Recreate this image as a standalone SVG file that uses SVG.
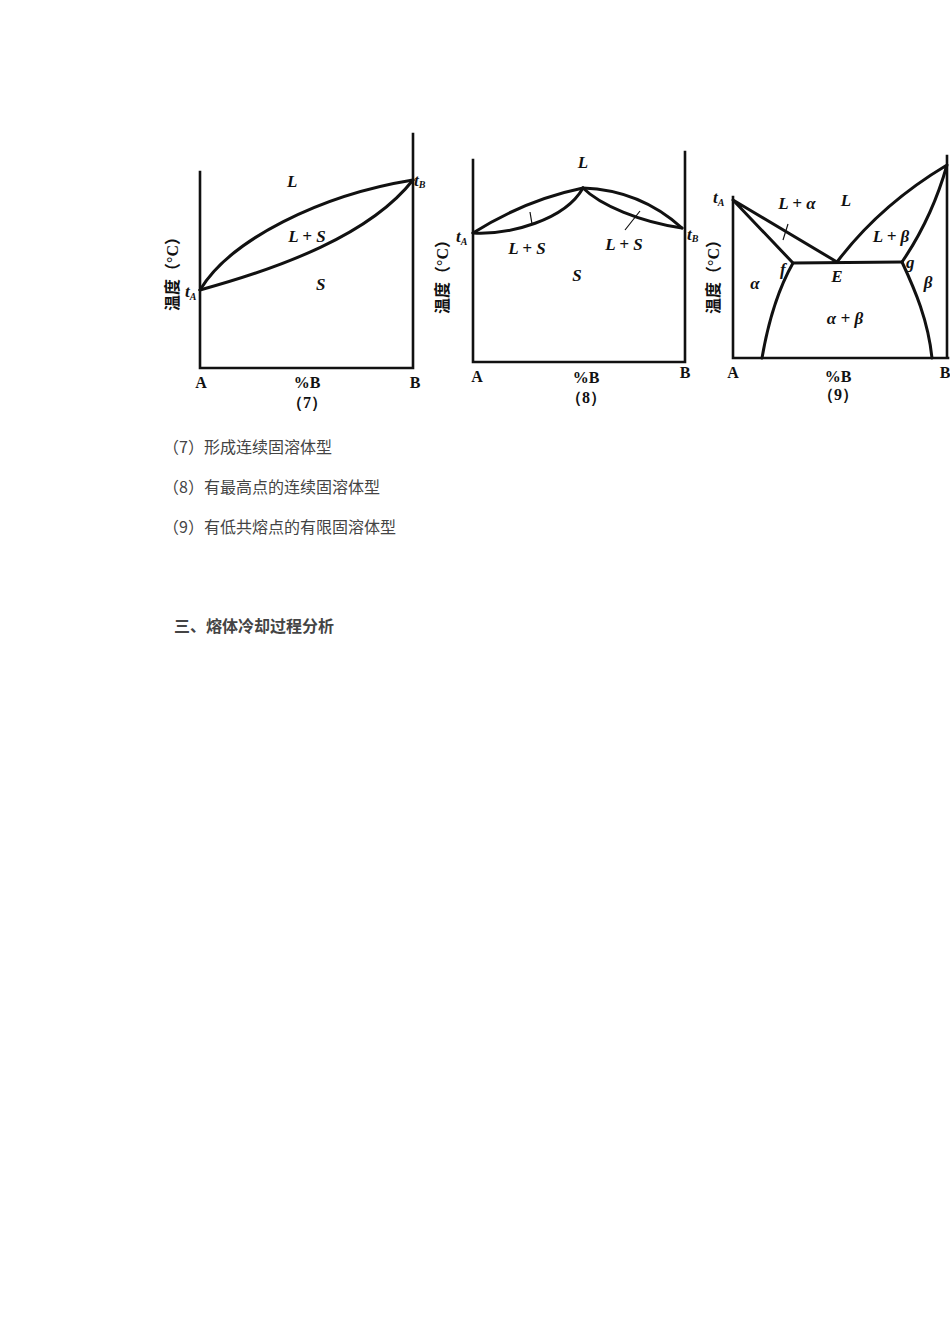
<svg xmlns="http://www.w3.org/2000/svg" width="950" height="1344" viewBox="0 0 950 1344">
<style>
.ax{fill:none;stroke:#111;stroke-width:2.6;stroke-linecap:square}
.cv{fill:none;stroke:#111;stroke-width:3;stroke-linecap:round;stroke-linejoin:round}
.tk{fill:none;stroke:#111;stroke-width:1.2}
.it{font-family:"Liberation Serif",serif;font-style:italic;font-weight:bold;font-size:17px;fill:#111}
.rm{font-family:"Liberation Serif",serif;font-weight:bold;font-size:16px;fill:#111}
.sub{font-family:"Liberation Serif",serif;font-size:10px;fill:#111}
.yl{font-family:"Liberation Serif","Noto Sans CJK SC",serif;font-weight:bold;font-size:16px;fill:#111}
.cap{font-family:"Noto Sans CJK SC",sans-serif;font-size:16px;fill:#444}
</style>
<rect width="950" height="1344" fill="#fff"/>
<g id="diagram7">
<path class="ax" d="M200,172 V368 H413 M413,134 V368"/>
<text class="it" x="287" y="187">L</text>
<text class="it" x="307" y="242" text-anchor="middle" font-style="normal">L + S</text>
<text class="it" x="316" y="290">S</text>
<text class="it" x="185" y="297" font-size="15">t<tspan class="sub" dy="3">A</tspan></text>
<text class="it" x="414" y="186" font-size="15">t<tspan class="sub" dy="2">B</tspan></text>
<text class="yl" transform="translate(178,270) rotate(-90)" text-anchor="middle">温度（°C）</text>
<text class="rm" x="201" y="388" text-anchor="middle">A</text>
<text class="rm" x="415" y="388" text-anchor="middle">B</text>
<text class="rm" x="307" y="388" text-anchor="middle">%B</text>
<text class="rm" x="307" y="408" text-anchor="middle">（7）</text>
</g>
<g id="diagram8">
<path class="ax" d="M473,160 V362 H685 M685,152 V362"/>
<text class="it" x="583" y="168" text-anchor="middle">L</text>
<text class="it" x="527" y="254" text-anchor="middle">L + S</text>
<text class="it" x="624" y="250" text-anchor="middle">L + S</text>
<text class="it" x="577" y="281" text-anchor="middle">S</text>
<text class="it" x="456" y="242" font-size="15">t<tspan class="sub" dy="3">A</tspan></text>
<text class="it" x="687" y="240" font-size="15">t<tspan class="sub" dy="2">B</tspan></text>
<text class="yl" transform="translate(448,273) rotate(-90)" text-anchor="middle">温度（°C）</text>
<text class="rm" x="477" y="382" text-anchor="middle">A</text>
<text class="rm" x="685" y="378" text-anchor="middle">B</text>
<text class="rm" x="586" y="383" text-anchor="middle">%B</text>
<text class="rm" x="586" y="403" text-anchor="middle">（8）</text>
</g>
<g id="diagram9">
<path class="ax" d="M733,197 V358 H948 M947,156 V358"/>
<text class="it" x="797" y="209" text-anchor="middle">L + α</text>
<text class="it" x="846" y="206" text-anchor="middle">L</text>
<text class="it" x="891" y="242" text-anchor="middle">L + β</text>
<text class="it" x="780" y="275" font-size="15">f</text>
<text class="it" x="837" y="282" text-anchor="middle" font-size="15">E</text>
<text class="it" x="906" y="268" font-size="15">g</text>
<text class="it" x="755" y="289" text-anchor="middle">α</text>
<text class="it" x="928" y="288" text-anchor="middle">β</text>
<text class="it" x="845" y="324" text-anchor="middle">α + β</text>
<text class="it" x="713" y="203" font-size="15">t<tspan class="sub" dy="3">A</tspan></text>
<text class="yl" transform="translate(719,273) rotate(-90)" text-anchor="middle">温度（°C）</text>
<text class="rm" x="733" y="378" text-anchor="middle">A</text>
<text class="rm" x="945" y="378" text-anchor="middle">B</text>
<text class="rm" x="838" y="382" text-anchor="middle">%B</text>
<text class="rm" x="838" y="400" text-anchor="middle">（9）</text>
</g>
<g id="connectors">
<path class="cv" d="M200,290 C230,240 320,195 413,180"/>
<path class="cv" d="M200,290 C280,268 370,235 413,180"/>
<path class="cv" d="M473,233 Q525,200 583,188"/>
<path class="cv" d="M473,233 C510,235 565,220 583,188"/>
<path class="cv" d="M583,188 Q640,190 682,228"/>
<path class="cv" d="M583,188 C600,205 640,222 682,228"/>
<path class="tk" d="M530,212 L532,224 M640,211 L625,230"/>
<path class="cv" d="M733,200 L837,262 M733,200 L793,263 L902,262"/>
<path class="cv" d="M837,262 Q880,205 947,165 M902,262 Q932,218 947,165"/>
<path class="cv" d="M793,263 Q772,300 762,358 M902,262 C915,290 928,320 932,358"/>
<path class="tk" d="M788,224 L783,240"/>
</g>
<g id="captions">
<text class="cap" x="163" y="453">（7）形成连续固溶体型</text>
<text class="cap" x="163" y="493">（8）有最高点的连续固溶体型</text>
<text class="cap" x="163" y="533">（9）有低共熔点的有限固溶体型</text>
<text class="cap" x="174" y="632" font-weight="bold" font-size="16.5">三、熔体冷却过程分析</text>
</g>
</svg>
